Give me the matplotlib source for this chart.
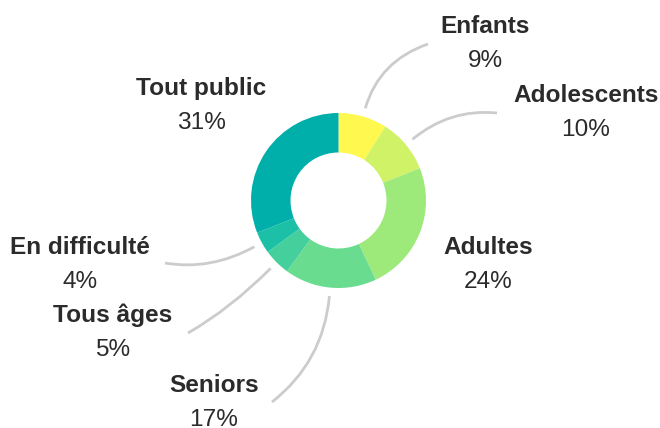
import numpy as np
import matplotlib
matplotlib.use("Agg")
import matplotlib.pyplot as plt
from matplotlib.path import Path
from matplotlib.patches import PathPatch

categories = ["Enfants", "Adolescents", "Adultes", "Seniors", "Tous âges", "En difficulté", "Tout public"]
values = [9, 10, 24, 17, 5, 4, 31]
pct_labels = ["9%", "10%", "24%", "17%", "5%", "4%", "31%"]
colors = ["#FFF84F", "#CFF266", "#9DE97A", "#6ADC8F", "#45CF9C", "#1CC0A6", "#00AFAA"]

W, H = 660, 428
fig = plt.figure(figsize=(W / 100, H / 100), dpi=100)
ax = fig.add_axes([0, 0, 1, 1])

cx, cy = 338.5, H - 200.5
R, r_in = 87.5, 48.0
ax.pie(values, colors=colors, startangle=90, counterclock=False, radius=R,
       center=(cx, cy), wedgeprops=dict(width=R - r_in, linewidth=0), frame=True)
ax.set_xlim(0, W)
ax.set_ylim(0, H)
ax.set_aspect("equal")
ax.axis("off")

# label placement (pixel coords, y from top): name baseline, x-center
label_pos = {
    "Enfants": (485.5, 33.3),
    "Adolescents": (585.6, 101.7),
    "Adultes": (488.5, 254.3),
    "Seniors": (214, 391.7),
    "Tous âges": (113, 321.7),
    "En difficulté": (80, 254.0),
    "Tout public": (201.5, 95.0),
}
# connector end points (pixel coords, y from top)
conn_end = {
    "Enfants": (428, 44),
    "Adolescents": (497, 113),
    "Seniors": (272, 402),
    "Tous âges": (188, 333),
    "En difficulté": (165, 263),
}

fs = 17.6
txt_col = "#2b2b2b"
cum = 0
for cat, v, p in zip(categories, values, pct_labels):
    mid = (cum + v / 2) / sum(values) * 2 * np.pi
    cum += v
    lx, ly = label_pos[cat]
    ax.text(lx, H - ly, cat, ha="center", va="baseline", fontsize=fs,
            fontweight="bold", color=txt_col, family="Liberation Sans")
    ax.text(lx, H - ly - 34, p, ha="center", va="baseline", fontsize=fs,
            color=txt_col, family="Liberation Sans")
    if cat in conn_end:
        dx, dy = np.sin(mid), np.cos(mid)
        sx, sy = cx + 96 * dx, cy + 96 * dy
        ex, ey = conn_end[cat]
        ey = H - ey
        L = 0.55 * np.hypot(ex - sx, ey - sy)
        qx, qy = sx + L * dx, sy + L * dy
        path = Path([(sx, sy), (qx, qy), (ex, ey)], [Path.MOVETO, Path.CURVE3, Path.CURVE3])
        ax.add_patch(PathPatch(path, fill=False, edgecolor="#CCCCCC", linewidth=2, capstyle="butt"))

fig.savefig("out.png", dpi=100)
